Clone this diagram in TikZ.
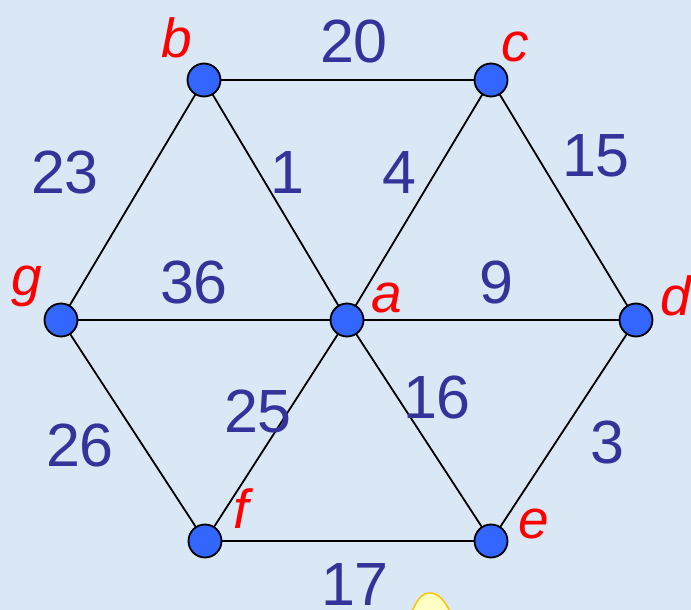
\documentclass[tikz,border=0pt]{standalone}
\usepackage{fontspec}
\setmainfont{Liberation Sans}
\definecolor{bgc}{RGB}{218,231,245}
\definecolor{numc}{RGB}{51,51,153}
\definecolor{vfill}{RGB}{51,102,255}
\definecolor{yfill}{RGB}{255,255,196}
\definecolor{yline}{RGB}{255,196,0}
\begin{document}
\begin{tikzpicture}[x=1pt,y=-1pt,
  vert/.style={circle,draw=black,line width=1.8pt,fill=vfill,minimum size=33pt,inner sep=0pt},
  edge/.style={draw=black,line width=1.8pt},
  wlab/.style={anchor=base,inner sep=0pt,text=numc,font=\fontsize{61}{61}\selectfont},
  vlab/.style={anchor=base,inner sep=0pt,text=red,font=\fontsize{55}{55}\selectfont\itshape}]
\useasboundingbox (0,0) rectangle (691,610);
\fill[bgc] (0,0) rectangle (691,610);
\begin{scope}
\clip (0,0) rectangle (691,610);
\draw[fill=yfill,draw=yline,line width=1.5pt] (411,614) .. controls (417,599) and (422,593) .. (430,593) .. controls (438,593) and (445,600) .. (451,614);
\end{scope}
\coordinate (pb) at (204,80);
\coordinate (pc) at (491,80);
\coordinate (pg) at (61,320);
\coordinate (pa) at (347,320);
\coordinate (pd) at (636,320);
\coordinate (pf) at (205,541);
\coordinate (pe) at (491,541);
\draw[edge] (pb) -- (pc) (pb) -- (pg) (pb) -- (pa) (pc) -- (pa) (pc) -- (pd)
  (pg) -- (pa) (pa) -- (pd) (pg) -- (pf) (pf) -- (pa) (pa) -- (pe) (pd) -- (pe) (pf) -- (pe);
\node[vert] (b) at (pb) {};
\node[vert] (c) at (pc) {};
\node[vert] (g) at (pg) {};
\node[vert] (a) at (pa) {};
\node[vert] (d) at (pd) {};
\node[vert] (f) at (pf) {};
\node[vert] (e) at (pe) {};
\node[vlab] (lb) at (177,58) {b};
\node[vlab] (lc) at (515,62) {c};
\node[vlab] (lg) at (27,295) {g};
\node[vlab] (la) at (387,312) {a};
\node[vlab] (ld) at (676,315) {d};
\node[vlab] (le) at (534,538) {e};
\node[vlab] (lf) at (241,528) {f};
\node[wlab] (w20) at (354,63) {20};
\node[wlab] (w23) at (65,193) {23};
\node[wlab] (w1) at (287,193) {1};
\node[wlab] (w4) at (399,193) {4};
\node[wlab] (w15) at (596,176) {15};
\node[wlab] (w36) at (194,303) {36};
\node[wlab] (w9) at (496,303) {9};
\node[wlab] (w25) at (258,432) {25};
\node[wlab] (w16) at (437,418) {16};
\node[wlab] (w26) at (80,466) {26};
\node[wlab] (w3) at (607,463) {3};
\node[wlab] (w17) at (355,605) {17};
\end{tikzpicture}
\end{document}
